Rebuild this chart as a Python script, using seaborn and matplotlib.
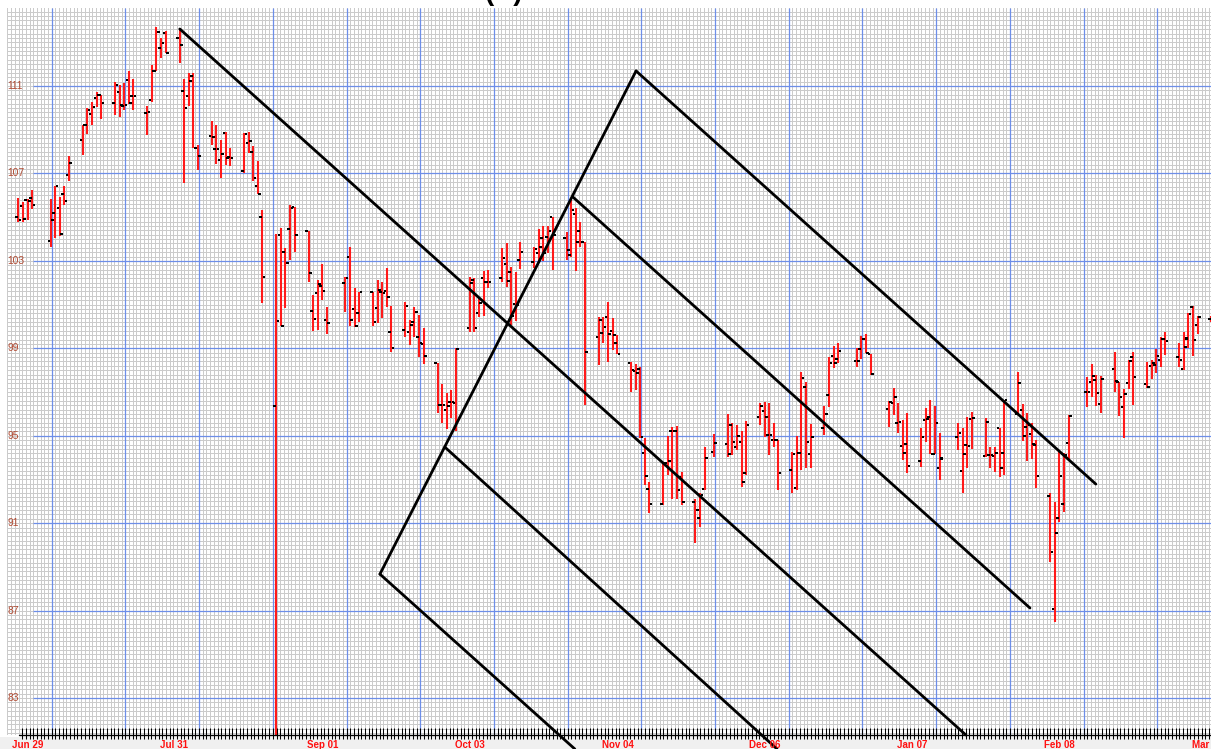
import numpy as np
import matplotlib
matplotlib.use("Agg")
import matplotlib.pyplot as plt
import seaborn as sns
from matplotlib.transforms import blended_transform_factory, ScaledTranslation
from matplotlib.markers import MarkerStyle
from matplotlib.patches import Rectangle

# ---- daily OHLC data (x = calendar day counted from Jun 29) ----
day = [0, 1, 2, 3, 7, 8, 9, 10, 11, 14, 15, 16, 17, 18, 21, 22, 23, 24, 25,
       28, 29, 30, 31, 32, 35, 36, 37, 38, 39, 42, 43, 44, 45, 46, 49, 50, 51, 52, 53,
       56, 57, 58, 59, 60, 63, 64, 65, 66, 67, 71, 72, 73, 74, 77, 78, 79, 80, 81,
       84, 85, 86, 87, 88, 91, 92, 93, 94, 95, 98, 99, 100, 101, 102,
       105, 106, 107, 108, 109, 112, 113, 114, 115, 116, 119, 120, 121, 122, 123,
       126, 127, 128, 129, 130, 133, 134, 135, 136, 137, 140, 141, 142, 143, 144,
       147, 148, 149, 151, 154, 155, 156, 157, 158, 161, 162, 163, 164, 165,
       168, 169, 170, 171, 172, 175, 176, 177, 178, 182, 183, 184, 185,
       189, 190, 191, 192, 193, 196, 197, 198, 199, 200, 204, 205, 206, 207,
       210, 211, 212, 213, 214, 217, 218, 219, 220, 221, 224, 225, 226, 227, 228,
       232, 233, 234, 235, 238, 239, 240, 241, 242, 245, 246, 247, 248, 249,
       252, 253, 254, 255, 256, 259]

open_ = [105.02, 105.51, 105.78, 105.86, 103.92, 105.17, 105.40, 106.04, 106.91,
         108.53, 109.22, 109.70, 110.44, 110.59, 110.21, 110.74, 110.09, 111.27, 110.53,
         109.75, 110.36, 111.70, 112.72, 113.44, 113.18, 110.79, 110.54, 111.45, 108.15,
         108.71, 108.12, 107.61, 108.83, 107.77, 107.11, 108.38, 108.00, 106.44, 105.02,
         96.36, 104.18, 103.42, 104.46, 105.45, 104.37, 100.71, 101.54, 101.86, 100.29,
         102.00, 103.19, 100.80, 100.63, 101.56, 100.83, 101.59, 101.62, 99.76,
         99.84, 99.76, 100.19, 99.53, 99.20, 98.31, 96.41, 96.20, 96.56, 96.50,
         99.91, 102.12, 100.60, 102.20, 102.02, 102.23, 102.86, 102.50, 101.01, 103.04,
         102.93, 103.37, 104.03, 104.08, 104.99, 104.03, 103.27, 105.14, 104.38, 103.85,
         99.50, 99.68, 100.45, 99.81, 99.23, 98.34, 97.96, 98.05, 94.22, 92.55,
         91.90, 93.77, 95.23, 95.23, 93.13, 91.98, 91.22, 92.55, 94.24,
         94.62, 95.49, 94.50, 94.73, 93.31, 95.84, 96.15, 95.03, 94.80, 94.80,
         93.43, 92.59, 94.22, 97.24, 94.16, 95.34, 96.86, 98.65, 98.49,
         98.43, 98.95, 99.41, 98.72, 96.21, 96.48, 95.57, 94.53, 94.62,
         93.86, 95.72, 95.87, 94.16, 93.51, 94.93, 93.40, 94.57, 95.75,
         94.07, 94.12, 94.07, 95.34, 94.22, 96.00, 96.18, 95.41, 95.06, 94.57,
         92.24, 87.06, 91.22, 91.88, 94.68, 96.98, 97.47, 97.55, 96.45,
         98.07, 97.44, 96.33, 97.43, 98.62, 97.37, 98.19, 98.24, 98.46, 99.42,
         98.59, 98.05, 99.45, 100.87, 100.06, 100.34]

high = [105.86, 105.71, 105.83, 106.24, 105.81, 106.44, 105.94, 106.44, 107.80,
        109.22, 109.98, 110.28, 110.74, 110.59, 111.20, 111.05, 111.12, 111.70, 111.32,
        110.09, 111.96, 113.72, 113.18, 113.52, 113.64, 111.30, 111.60, 111.58, 108.30,
        109.40, 109.22, 108.53, 108.88, 108.15, 108.86, 108.91, 108.25, 107.57, 105.33,
        104.23, 104.49, 103.57, 105.55, 105.48, 104.38, 101.44, 102.12, 102.86, 100.90,
        102.28, 103.65, 101.74, 101.59, 101.59, 102.12, 102.05, 102.66, 100.93,
        101.10, 100.29, 100.90, 100.52, 99.92, 98.34, 97.35, 96.94, 97.10, 99.00,
        102.25, 102.20, 101.29, 102.55, 102.58, 103.57, 103.83, 102.70, 102.50, 103.88,
        103.62, 104.46, 104.61, 104.59, 105.02, 104.34, 105.78, 105.40, 104.79, 103.85,
        100.42, 100.42, 101.13, 100.37, 99.61, 98.39, 98.28, 98.13, 94.88, 92.90,
        93.74, 94.99, 95.41, 95.44, 93.36, 92.10, 92.40, 94.50, 95.08,
        95.99, 95.57, 95.49, 95.23, 95.69, 96.48, 96.53, 96.48, 95.57, 94.80,
        94.27, 94.99, 97.90, 97.47, 95.52, 96.36, 98.62, 99.10, 99.26,
        99.00, 99.56, 99.65, 98.72, 96.60, 97.17, 96.48, 95.72, 96.02,
        95.34, 96.25, 96.63, 96.36, 95.14, 95.60, 95.34, 95.84, 96.10,
        95.80, 94.50, 94.50, 95.34, 96.63, 97.93, 96.45, 96.05, 95.60, 94.80,
        92.39, 91.98, 94.27, 94.22, 95.95, 97.67, 98.28, 97.78, 97.73,
        98.81, 97.47, 97.12, 98.46, 98.81, 98.39, 98.46, 98.95, 99.50, 99.76,
        99.23, 99.76, 100.63, 100.93, 100.48, 100.50]

low = [104.76, 104.76, 104.87, 105.36, 103.62, 104.07, 104.15, 105.55, 106.67,
       107.83, 108.79, 109.22, 110.05, 109.49, 109.67, 109.60, 109.90, 110.16, 109.90,
       108.76, 110.28, 111.70, 112.27, 112.49, 112.04, 106.58, 110.08, 108.15, 107.17,
       108.30, 107.43, 106.78, 107.38, 107.34, 107.00, 107.92, 106.67, 106.05, 101.06,
       80.50, 100.00, 100.83, 103.04, 103.42, 102.05, 99.80, 99.83, 101.21, 99.64,
       100.68, 100.02, 99.99, 100.22, 100.02, 100.14, 100.37, 100.90, 98.85,
       99.53, 99.15, 99.53, 98.62, 98.27, 96.05, 95.60, 95.30, 95.80, 95.20,
       99.76, 99.76, 100.45, 100.48, 101.74, 102.05, 101.79, 100.09, 100.25, 102.63,
       102.66, 102.96, 103.01, 103.34, 102.58, 103.04, 103.19, 102.55, 103.65, 96.41,
       98.24, 99.23, 98.39, 98.92, 98.74, 97.02, 97.10, 94.88, 92.75, 91.45,
       91.83, 93.20, 92.10, 92.10, 91.83, 90.10, 90.84, 92.52, 94.04,
       94.04, 94.12, 94.35, 92.67, 93.20, 95.49, 94.96, 94.12, 94.50, 92.52,
       92.36, 92.52, 93.43, 93.51, 93.54, 95.03, 96.33, 98.08, 98.34,
       98.13, 98.49, 98.77, 97.78, 95.38, 95.95, 95.11, 93.89, 93.28,
       93.58, 94.73, 94.16, 94.16, 92.97, 94.35, 92.36, 93.51, 94.38,
       94.01, 93.51, 93.36, 93.10, 93.20, 95.95, 94.77, 93.86, 93.92, 92.59,
       89.24, 86.49, 91.07, 91.49, 93.89, 96.33, 96.79, 96.36, 96.05,
       97.00, 95.90, 94.92, 97.12, 96.40, 97.17, 97.58, 97.88, 98.16, 98.69,
       98.16, 98.01, 99.00, 98.65, 99.65, 100.20]

close = [104.87, 104.92, 105.74, 105.56, 104.87, 106.42, 104.23, 105.74, 107.49,
         109.20, 109.90, 110.02, 110.59, 110.21, 111.05, 110.13, 110.15, 110.24, 110.53,
         109.83, 111.70, 113.49, 112.98, 112.49, 112.88, 110.01, 111.22, 108.15, 107.80,
         108.68, 108.12, 107.90, 107.72, 107.72, 108.79, 108.50, 106.78, 106.07, 102.25,
         100.26, 100.03, 102.92, 105.40, 104.18, 102.46, 100.32, 101.94, 101.62, 100.17,
         102.20, 100.29, 100.03, 101.56, 100.22, 101.67, 101.54, 101.36, 99.00,
         100.95, 100.06, 100.68, 99.23, 98.66, 96.41, 96.41, 96.36, 96.56, 98.97,
         101.97, 99.91, 101.06, 102.02, 102.02, 103.12, 102.09, 100.48, 100.98, 103.42,
         103.54, 103.65, 103.34, 104.37, 104.18, 103.50, 105.33, 103.85, 103.85, 98.82,
         100.30, 99.96, 99.64, 99.61, 98.74, 98.01, 97.88, 94.93, 93.16, 91.86,
         93.74, 93.86, 95.23, 92.52, 91.95, 91.60, 92.30, 93.97, 94.65,
         94.15, 94.70, 94.99, 92.90, 95.49, 96.38, 95.84, 95.03, 94.80, 93.28,
         94.16, 94.19, 97.63, 94.73, 94.93, 95.98, 98.31, 98.34, 98.89,
         98.43, 99.41, 98.77, 97.82, 96.56, 96.76, 95.64, 94.19, 93.61,
         94.96, 95.75, 94.16, 95.57, 93.96, 95.11, 94.16, 94.53, 95.80,
         95.64, 94.12, 94.19, 93.51, 96.63, 97.40, 94.99, 95.50, 94.62, 93.16,
         89.70, 90.53, 93.16, 94.10, 95.92, 96.98, 97.73, 96.94, 97.61,
         97.50, 96.79, 96.89, 98.43, 97.70, 97.21, 98.31, 98.66, 99.42, 99.33,
         98.46, 99.07, 100.57, 99.38, 100.42, 100.40]

# ---- axis labels ----
date_labels = ["Jun 29", "Jul 31", "Sep 01", "Oct 03", "Nov 04",
               "Dec 06", "Jan 07", "Feb 08", "Mar 12"]
date_days = [0, 32, 64, 96, 128, 160, 192, 224, 256]
price_ticks = [83, 87, 91, 95, 99, 103, 107, 111]

# ---- hand-drawn channel lines: (day, price) start and end points ----
channel_days = [(35.06, 205.7), (134.1, 233.9), (120.4, 219.6),
                (92.6, 164.7), (78.5, 120.8), (78.5, 134.1)]
channel_prices = [(113.61, 81.31), (111.69, 92.79), (105.92, 87.12),
                  (94.48, 80.67), (88.67, 80.67), (88.67, 111.69)]

LABEL_FONT = ["Liberation Sans", "DejaVu Sans"]

# ---- figure ----
sns.set_style("white")
W, H = 1211, 749
fig = plt.figure(figsize=(W / 100, H / 100), dpi=100)
fig.patch.set_facecolor("white")
fig.patches.append(Rectangle((0, 0), 1, 12 / H, transform=fig.transFigure,
                             facecolor="#f0f0f0", edgecolor="none", zorder=-5))

ax = fig.add_axes([7 / W, 14 / H, (W - 7) / W, 727 / H])
ax.set_facecolor("white")
x_lo, x_hi = -2.45, 258.9
y_lo, y_hi = 81.31, 114.57
ax.set_xlim(x_lo, x_hi)
ax.set_ylim(y_lo, y_hi)
for s in ax.spines.values():
    s.set_visible(False)
ax.set_xticks([])
ax.set_yticks([])

# fine graph-paper grid
minor_x = np.arange(7.25 - 0.8 * 12, x_hi, 0.8)
major_x = np.arange(7.25, x_hi, 16)
minor_y = np.arange(81.4, y_hi, 0.2)
ax.vlines(minor_x, y_lo, y_hi, color="#cbcbcb", lw=0.72, zorder=0,
          antialiased=False)
ax.hlines(minor_y, x_lo, x_hi, color="#cbcbcb", lw=0.72, zorder=0,
          antialiased=False)
ax.vlines(major_x, y_lo, y_hi, color="#6d8ee8", lw=0.9, zorder=1)
ax.hlines(price_ticks, 3.2, x_hi, color="#6d8ee8", lw=0.9, zorder=1)

# OHLC bars
ax.vlines(day, low, high, color="#ff1a1a", lw=1.5, zorder=3)
open_mark = MarkerStyle([(-3, -1), (-0.5, -1), (-0.5, 1), (-3, 1), (-3, -1)])
close_mark = MarkerStyle([(3, -1), (0.5, -1), (0.5, 1), (3, 1), (3, -1)])
sns.scatterplot(x=day, y=open_, marker=open_mark, s=19, color="black",
                edgecolor="none", linewidth=0, ax=ax, zorder=4, legend=False)
sns.scatterplot(x=day, y=close, marker=close_mark, s=19, color="black",
                edgecolor="none", linewidth=0, ax=ax, zorder=4, legend=False)

# channel lines
for (d0, d1), (p0, p1) in zip(channel_days, channel_prices):
    ax.plot([d0, d1], [p0, p1], color="black", lw=2.0, zorder=5,
            clip_on=False, solid_capstyle="round")

# price labels drawn inside the grid on the left
ytr = blended_transform_factory(ax.transAxes, ax.transData)
for p in price_ticks:
    ax.text(0.0, p, str(p), transform=ytr, ha="left", va="center",
            fontsize=7.4, color="#b04a32", family=LABEL_FONT, zorder=6)

# bottom axis line and day ticks
axis_x0 = (19 - 18.3) / 4.607
ax.plot([axis_x0, x_hi], [y_lo, y_lo], color="black", lw=1.0,
        clip_on=False, zorder=6)
tick_x = minor_x[minor_x >= axis_x0 + 0.5]
ax.vlines(tick_x, 81.12, 81.63, color="black", lw=0.75, clip_on=False, zorder=6)

# date labels
xtr = blended_transform_factory(ax.transData, fig.transFigure)
shift = ScaledTranslation(-6 / 100, 0, fig.dpi_scale_trans)
for d, lab in zip(date_days, date_labels):
    fig.text(d, 4.5 / H, lab, transform=xtr + shift, ha="left", va="center",
             fontsize=7.0, fontweight="bold", color="#ff1010", family=LABEL_FONT)

# chart title (sits above the top edge)
fig.text(504 / W, 1.0, "(A)", ha="center", va="baseline", fontsize=20,
         fontweight="bold", color="black", family=LABEL_FONT)

fig.savefig("out.png", dpi=100, facecolor=fig.get_facecolor())
